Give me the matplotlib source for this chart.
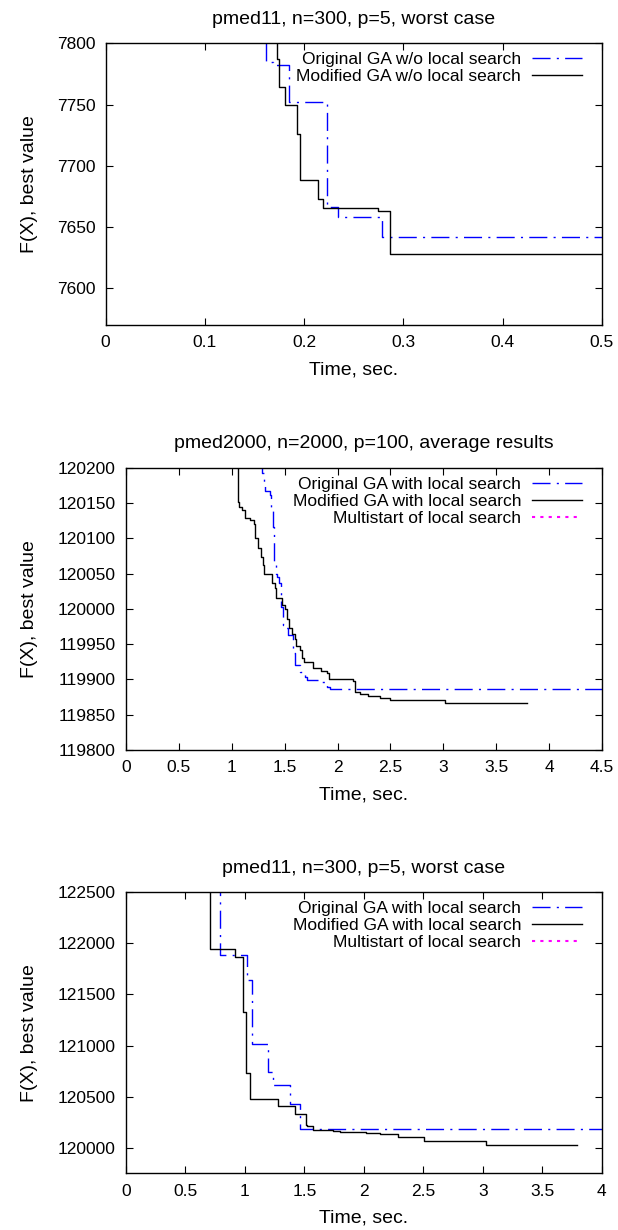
import numpy as np
import matplotlib
matplotlib.use("Agg")
import matplotlib.pyplot as plt
from matplotlib.ticker import FormatStrFormatter, MultipleLocator

plt.rcParams['font.family'] = ['Liberation Sans', 'DejaVu Sans']
plt.rcParams['font.size'] = 12.5

#%% datos (tiempo, mejor valor)
# pmed11 sin busqueda local
t_orig1 = [0.0, 0.1614, 0.169, 0.185, 0.2228, 0.234, 0.2789, 0.5]
f_orig1 = [7830, 7784.5, 7782, 7752, 7666.3, 7657.9, 7642, 7642]
t_mod1 = [0.0, 0.1728, 0.1745, 0.1805, 0.193, 0.196, 0.214, 0.219, 0.2745, 0.2866, 0.5]
f_mod1 = [7830, 7787, 7764.7, 7750, 7725.8, 7688, 7672.8, 7665.8, 7663, 7628, 7628]

# pmed2000 con busqueda local
t_orig2 = [0.0, 1.288, 1.304, 1.319, 1.360, 1.370, 1.386, 1.395, 1.404, 1.414, 1.430,
           1.449, 1.464, 1.480, 1.502, 1.534, 1.581, 1.597, 1.644, 1.691, 1.707,
           1.817, 1.896, 1.927, 4.5]
f_orig2 = [120300, 120192, 120179, 120167, 120161, 120140, 120116, 120100, 120064.5,
           120050, 120045.6, 120036, 120003, 119977, 119972.4, 119963, 119937,
           119920.5, 119911, 119904, 119899.3, 119896, 119890, 119886, 119886]
t_mod2 = [0.0, 1.055, 1.071, 1.093, 1.127, 1.175, 1.206, 1.219, 1.250, 1.275, 1.297,
          1.307, 1.376, 1.408, 1.423, 1.471, 1.502, 1.518, 1.543, 1.565, 1.597,
          1.612, 1.644, 1.660, 1.685, 1.770, 1.842, 1.896, 1.921, 2.148, 2.163,
          2.211, 2.289, 2.400, 2.500, 3.020, 3.791]
f_mod2 = [120300, 120151.8, 120144.8, 120140, 120129, 120126, 120120, 120100,
          120085.7, 120074, 120062, 120050, 120036, 120029, 120016, 120005, 120000,
          119985, 119972.4, 119965, 119958, 119947, 119942, 119930, 119925, 119916,
          119912, 119908.7, 119900.6, 119898, 119882.7, 119880, 119877, 119874,
          119870.5, 119866, 119866]

# pmed11 con busqueda local
t_orig3 = [0.0, 0.789, 1.013, 1.061, 1.190, 1.237, 1.380, 1.464, 4.0]
f_orig3 = [123000, 121888, 121637, 121019, 120739, 120618, 120430, 120185, 120185]
t_mod3 = [0.0, 0.705, 0.918, 0.985, 1.005, 1.041, 1.279, 1.419, 1.509, 1.523, 1.573,
          1.741, 1.797, 2.021, 2.133, 2.287, 2.503, 3.023, 3.790]
f_mod3 = [123000, 121943, 121865, 121331, 120732, 120478, 120404, 120332, 120225,
          120212, 120173, 120163, 120153, 120146, 120137, 120107, 120068, 120026,
          120026]

# multistart: no aparece dentro de la ventana
t_multi = []
f_multi = []

#%%
fig = plt.figure(figsize=(6.18, 12.30), dpi=100)

ax1 = fig.add_axes([0.171, 0.7358, 0.803, 0.229])
ax2 = fig.add_axes([0.2039, 0.3902, 0.770, 0.2296])
ax3 = fig.add_axes([0.2039, 0.0461, 0.770, 0.2285])

dashdot = (0, (13, 4.5, 1.5, 4.5))
dotted = (0, (1.5, 2.5))

# panel 1
ax1.plot(t_orig1, f_orig1, color='blue', lw=1, ls=dashdot, drawstyle='steps-post',
         label='Original GA w/o local search')
ax1.plot(t_mod1, f_mod1, color='black', lw=1, drawstyle='steps-post',
         label='Modified GA w/o local search')
ax1.set_xlim(0, 0.5)
ax1.set_ylim(7570, 7800)
ax1.xaxis.set_major_locator(MultipleLocator(0.1))
ax1.yaxis.set_major_locator(MultipleLocator(50))
ax1.set_title("pmed11, n=300, p=5, worst case", fontsize=14, pad=14)
ax1.yaxis.set_label_coords(-0.136, 0.5)

# panel 2
ax2.plot(t_orig2, f_orig2, color='blue', lw=1, ls=dashdot, drawstyle='steps-post',
         label='Original GA with local search')
ax2.plot(t_mod2, f_mod2, color='black', lw=1, drawstyle='steps-post',
         label='Modified GA with local search')
ax2.plot(t_multi, f_multi, color='magenta', lw=1.5, ls=dotted,
         label='Multistart of local search')
ax2.set_xlim(0, 4.5)
ax2.set_ylim(119800, 120200)
ax2.xaxis.set_major_locator(MultipleLocator(0.5))
ax2.yaxis.set_major_locator(MultipleLocator(50))
ax2.set_title("pmed2000, n=2000, p=100, average results", fontsize=14, pad=14)
ax2.yaxis.set_label_coords(-0.185, 0.5)

# panel 3
ax3.plot(t_orig3, f_orig3, color='blue', lw=1, ls=dashdot, drawstyle='steps-post',
         label='Original GA with local search')
ax3.plot(t_mod3, f_mod3, color='black', lw=1, drawstyle='steps-post',
         label='Modified GA with local search')
ax3.plot(t_multi, f_multi, color='magenta', lw=1.5, ls=dotted,
         label='Multistart of local search')
ax3.set_xlim(0, 4)
ax3.set_ylim(119750, 122500)
ax3.xaxis.set_major_locator(MultipleLocator(0.5))
ax3.yaxis.set_major_locator(MultipleLocator(500))
ax3.set_title("pmed11, n=300, p=5, worst case", fontsize=14, pad=14)
ax3.yaxis.set_label_coords(-0.185, 0.5)

for ax in (ax1, ax2, ax3):
    ax.xaxis.set_major_formatter(FormatStrFormatter('%g'))
    ax.yaxis.set_major_formatter(FormatStrFormatter('%g'))
    ax.tick_params(direction='in', length=5, width=0.8, top=True, right=True,
                   labelsize=12.5)
    ax.tick_params(axis='x', pad=7.5)
    ax.tick_params(axis='y', pad=7.5)
    ax.set_xlabel("Time, sec.", fontsize=14, labelpad=8)
    ax.set_ylabel("F(X), best value", fontsize=14)
    for s in ax.spines.values():
        s.set_linewidth(1)
    bx = (582 - 105.7) / 496.3 if ax is ax1 else (582 - 126) / 476
    ax.legend(loc='upper right', bbox_to_anchor=(bx, 0.968), frameon=False,
              markerfirst=False, handlelength=2.85, handletextpad=0.65,
              labelspacing=0.1, borderpad=0, borderaxespad=0, fontsize=12.5)

fig.savefig("out.png", dpi=100)
